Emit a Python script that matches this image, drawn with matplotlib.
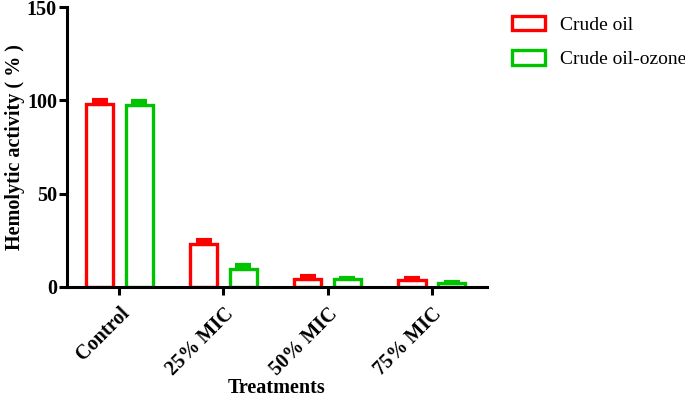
import numpy as np
import matplotlib
matplotlib.use("Agg")
import matplotlib.pyplot as plt
import matplotlib.transforms as mtransforms
from matplotlib.patches import Patch

plt.rcParams['font.family'] = ['Liberation Serif', 'DejaVu Serif']

treatments = ['Control', '25% MIC', '50% MIC', '75% MIC']
crude_oil = [98.0, 22.8, 4.1, 3.8]
crude_oil_err = [2.0, 2.4, 1.6, 1.0]
crude_oil_ozone = [97.5, 9.6, 4.0, 2.0]
crude_oil_ozone_err = [2.3, 2.2, 1.0, 0.4]

red = '#FF0000'
green = '#00C400'

fig = plt.figure(figsize=(6.85, 3.98), dpi=100)
ax = fig.add_axes([0.0974, 0.279, 0.6136, 0.7034])

x = np.arange(len(treatments))
off = 0.19
w = 0.26

for xs, vals, errs, col in [(x - off, crude_oil, crude_oil_err, red),
                            (x + off, crude_oil_ozone, crude_oil_ozone_err, green)]:
    ax.bar(xs, vals, width=w, facecolor='white', edgecolor=col, linewidth=2.4, zorder=2)
    ax.errorbar(xs, vals, yerr=[np.zeros(len(errs)), errs], fmt='none',
                ecolor=col, elinewidth=2.4, capsize=6, capthick=3, zorder=3)

ax.set_xlim(-0.505, 3.53)
ax.set_ylim(0, 150)
ax.set_yticks([0, 50, 100, 150])
ax.set_xticks(x)
ax.set_xticklabels(treatments, rotation=45, ha='right', va='top',
                   rotation_mode='anchor', fontweight='bold', fontsize=14.5)
shift = mtransforms.ScaledTranslation(-6 / 100, 0, fig.dpi_scale_trans)
for lab in ax.get_xticklabels():
    lab.set_transform(lab.get_transform() + shift)
for lab in ax.get_yticklabels():
    lab.set_fontweight('bold')
    lab.set_fontsize(14.5)

ax.spines['top'].set_visible(False)
ax.spines['right'].set_visible(False)
ax.spines['left'].set_linewidth(2.2)
ax.spines['bottom'].set_linewidth(2.2)
ax.tick_params(axis='both', width=2.2, length=6, pad=1)
ax.tick_params(axis='x', pad=6)

ax.set_ylabel('Hemolytic activity ( % )', fontweight='bold', fontsize=14.5)
ax.yaxis.set_label_coords(-0.1, 0.5)
ax.set_xlabel('Treatments', fontweight='bold', fontsize=14.5)
ax.xaxis.set_label_coords(0.5, -0.325)

handles = [Patch(facecolor='white', edgecolor=red, linewidth=2.4, label='Crude oil'),
           Patch(facecolor='white', edgecolor=green, linewidth=2.4, label='Crude oil-ozone')]
fig.legend(handles=handles, loc='upper left', bbox_to_anchor=(0.748, 0.96),
           frameon=False, fontsize=14, handlelength=1.7, handleheight=0.75,
           handletextpad=0.75, labelspacing=0.85, borderpad=0, borderaxespad=0)

fig.savefig('out.png', dpi=100)
